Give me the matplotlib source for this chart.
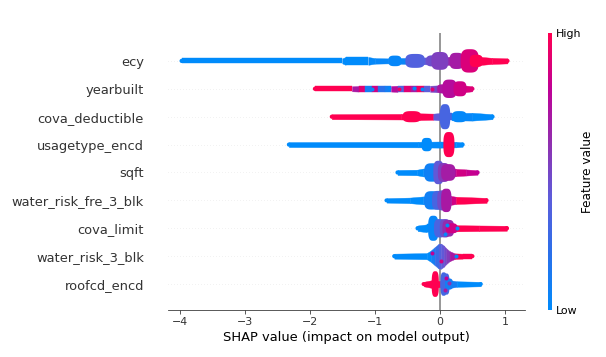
import numpy as np
import matplotlib
matplotlib.use("Agg")
import matplotlib.pyplot as plt
from matplotlib.cm import ScalarMappable
from matplotlib.colors import LinearSegmentedColormap

features = ["ecy", "yearbuilt", "cova_deductible", "usagetype_encd", "sqft",
            "water_risk_fre_3_blk", "cova_limit", "water_risk_3_blk", "roofcd_encd"]

# thin part of each swarm: shap value, half height (fraction of a row), feature value
ecy_x = [-3.97, -1.5, -1.45, -1.1, -1.0, -0.8, -0.5, -0.25, -0.1, 0.1, 0.2, 0.35, 0.55, 0.8, 1.04]
ecy_half = [0.09, 0.09, 0.14, 0.14, 0.1, 0.09, 0.11, 0.12, 0.14, 0.14, 0.16, 0.14, 0.16, 0.11, 0.09]
ecy_val = [0.0, 0.0, 0.0, 0.02, 0.03, 0.05, 0.2, 0.42, 0.5, 0.62, 0.72, 0.85, 1.0, 1.0, 1.0]

yearbuilt_x = [-1.92, -1.35, -1.25, -1.15, -1.05, -0.95, -0.85, -0.75, -0.65, -0.55, -0.45, -0.35, -0.25, -0.15, -0.05, 0.05, 0.2, 0.35, 0.5]
yearbuilt_half = [0.09, 0.09, 0.1, 0.1, 0.1, 0.1, 0.1, 0.1, 0.11, 0.11, 0.11, 0.11, 0.11, 0.11, 0.12, 0.14, 0.15, 0.13, 0.09]
yearbuilt_val = [1.0, 0.7, 0.9, 0.1, 0.85, 0.2, 0.1, 0.75, 0.35, 0.9, 0.7, 0.95, 0.4, 0.5, 0.6, 0.72, 0.78, 0.88, 0.9]

cova_x = [-1.66, -0.6, -0.3, -0.1, 0.0, 0.18, 0.5, 0.81]
cova_half = [0.09, 0.1, 0.12, 0.11, 0.13, 0.13, 0.14, 0.09]
cova_val = [1.0, 1.0, 1.0, 0.42, 0.32, 0.03, 0.0, 0.0]

usage_x = [-2.32, -0.33, 0.0, 0.25, 0.35]
usage_half = [0.09, 0.1, 0.11, 0.1, 0.08]
usage_val = [0.0, 0.0, 0.0, 0.0, 0.0]

sqft_x = [-0.65, -0.35, -0.26, 0.2, 0.25, 0.4, 0.58]
sqft_half = [0.09, 0.1, 0.14, 0.16, 0.13, 0.11, 0.08]
sqft_val = [0.0, 0.0, 0.02, 0.8, 0.85, 0.82, 0.8]

water_fre_x = [-0.82, -0.46, -0.26, 0.17, 0.25, 0.72]
water_fre_half = [0.08, 0.1, 0.14, 0.16, 0.13, 0.09]
water_fre_val = [0.0, 0.0, 0.02, 0.85, 1.0, 1.0]

limit_x = [-0.34, -0.2, 0.2, 0.26, 0.6, 1.03]
limit_half = [0.1, 0.14, 0.14, 0.11, 0.1, 0.09]
limit_val = [0.0, 0.0, 0.85, 1.0, 1.0, 1.0]

water3_x = [-0.7, -0.2, -0.14, -0.08, -0.02, 0.02, 0.06, 0.1, 0.15, 0.23, 0.35, 0.5]
water3_half = [0.09, 0.11, 0.2, 0.32, 0.44, 0.45, 0.38, 0.28, 0.18, 0.1, 0.09, 0.09]
water3_val = [0.0, 0.0, 0.1, 0.25, 0.36, 0.42, 0.48, 0.55, 0.7, 1.0, 1.0, 1.0]

roof_x = [-0.25, -0.12, 0.0, 0.18, 0.26, 0.63]
roof_half = [0.08, 0.14, 0.11, 0.13, 0.1, 0.08]
roof_val = [1.0, 1.0, 0.5, 0.1, 0.0, 0.0]

swarms = [(ecy_x, ecy_half, ecy_val), (yearbuilt_x, yearbuilt_half, yearbuilt_val),
          (cova_x, cova_half, cova_val), (usage_x, usage_half, usage_val),
          (sqft_x, sqft_half, sqft_val), (water_fre_x, water_fre_half, water_fre_val),
          (limit_x, limit_half, limit_val), (water3_x, water3_half, water3_val),
          (roof_x, roof_half, roof_val)]

# dense lumps: row index from the top, shap value, half width, half height, feature value
lump_row = [0, 0, 0, 0, 0, 0, 0, 1, 1, 1, 2, 2, 2, 3, 3, 4, 4, 4, 4, 5, 5, 5, 5, 6, 6, 6, 6, 6, 8, 8, 8, 8]
lump_x = [-0.69, -0.38, -0.1, 0.0, 0.26, 0.46, 0.56, 0.05, 0.15, 0.31, -0.43, 0.08, 0.3, -0.2, 0.14,
          -0.12, -0.02, 0.06, 0.13, -0.12, -0.03, 0.04, 0.1, -0.1, 0.0, 0.08, 0.13, 0.18,
          -0.07, 0.06, 0.1, 0.14]
lump_w = [0.1, 0.15, 0.11, 0.13, 0.11, 0.14, 0.1, 0.09, 0.11, 0.1, 0.14, 0.08, 0.11, 0.08, 0.085,
          0.12, 0.08, 0.09, 0.11, 0.12, 0.09, 0.08, 0.08, 0.08, 0.09, 0.08, 0.09, 0.09,
          0.055, 0.05, 0.05, 0.06]
lump_h = [0.19, 0.25, 0.2, 0.32, 0.29, 0.42, 0.22, 0.16, 0.33, 0.27, 0.2, 0.45, 0.2, 0.24, 0.45,
          0.33, 0.42, 0.34, 0.3, 0.33, 0.34, 0.36, 0.42, 0.45, 0.33, 0.33, 0.3, 0.18,
          0.46, 0.42, 0.38, 0.2]
lump_val = [0.03, 0.36, 0.47, 0.53, 0.68, 0.88, 1.0, 0.72, 0.75, 0.85, 1.0, 0.32, 0.02, 0.0, 1.0,
            0.08, 0.42, 0.55, 0.68, 0.08, 0.32, 0.48, 0.7, 0.03, 0.33, 0.48, 0.62, 0.85,
            1.0, 0.3, 0.3, 0.1]

# single dots that stand out: row index, shap value, offset in the row, feature value
dot_row = [1, 1, 1, 1, 1, 1, 6, 6, 6, 7, 7, 7, 8, 8, 8]
dot_x = [-1.05, -0.78, -0.62, -0.4, -0.28, -0.12, 0.26, 0.11, 0.08, 0.25, 0.02, -0.12, 0.08, 0.14, 0.09]
dot_y = [0.0, 0.02, -0.02, 0.02, 0.0, 0.0, 0.0, 0.1, -0.2, 0.0, -0.18, 0.12, -0.2, 0.05, 0.2]
dot_val = [0.05, 0.02, 0.95, 0.02, 0.0, 0.9, 0.0, 0.0, 0.03, 0.0, 0.85, 0.8, 0.7, 0.6, 0.8]

cmap = LinearSegmentedColormap.from_list(
    "shap", ["#008bfb", "#2a70ea", "#5c5ddb", "#9030b0", "#c00096", "#ff0051"]
)

fig = plt.figure(figsize=(606 / 72, 357 / 72), dpi=72)
ax = fig.add_axes([168 / 606, 1 - 310 / 357, 357 / 606, 277 / 357])

n = len(features)
ax.axvline(0, color="#999999", lw=2, zorder=0)
for i, (xs, hs, vs) in enumerate(swarms):
    y = n - 1 - i
    ax.axhline(y, color="#cccccc", lw=0.5, dashes=(1, 5), zorder=0)
    for j in range(len(xs) - 1):
        ax.fill_between(xs[j:j + 2],
                        [y - hs[j], y - hs[j + 1]],
                        [y + hs[j], y + hs[j + 1]],
                        color=cmap(vs[j]), lw=0.4, zorder=2)
    # round ends of the swarm
    ax.scatter([xs[0], xs[-1]], [y, y], c=[vs[0], vs[-1]], cmap=cmap, vmin=0, vmax=1,
               s=hs[0] * 200, lw=0, zorder=2)

# lumps are squarish ovals, closer to a packed swarm than a true ellipse
t = np.linspace(0, 2 * np.pi, 60)
ox = np.sign(np.cos(t)) * np.abs(np.cos(t)) ** 0.65
oy = np.sign(np.sin(t)) * np.abs(np.sin(t)) ** 0.65
for r, x, w, h, v in zip(lump_row, lump_x, lump_w, lump_h, lump_val):
    ax.fill(x + w * ox, n - 1 - r + h * oy, color=cmap(v), lw=0, zorder=2.5)

for r, x, dy, v in zip(dot_row, dot_x, dot_y, dot_val):
    ax.scatter(x, n - 1 - r + dy, color=cmap(v), s=16, lw=0, zorder=3)

ax.set_xlim(-4.18, 1.31)
ax.set_ylim(-0.93, 9.0)
ax.set_yticks(range(n))
ax.set_yticklabels(features[::-1], fontsize=13, color="#333333")
ax.set_xticks([-4, -3, -2, -1, 0, 1])
ax.tick_params(axis="x", labelsize=11, labelcolor="#333333", color="#333333")
ax.tick_params(axis="y", length=0, pad=24)
for s in ["top", "right", "left"]:
    ax.spines[s].set_visible(False)
ax.spines["bottom"].set_color("#333333")
ax.set_xlabel("SHAP value (impact on model output)", fontsize=13, color="black", labelpad=4)

cax = fig.add_axes([548 / 606, 1 - 310 / 357, 4 / 606, 277 / 357])
sm = ScalarMappable(cmap=cmap)
sm.set_array([0, 1])
cb = fig.colorbar(sm, cax=cax, ticks=[0, 1])
cb.set_ticklabels(["Low", "High"])
cb.ax.tick_params(labelsize=11, length=0)
cb.outline.set_visible(False)
cb.set_label("Feature value", size=12, labelpad=0)

fig.savefig("out.png", dpi=72)
